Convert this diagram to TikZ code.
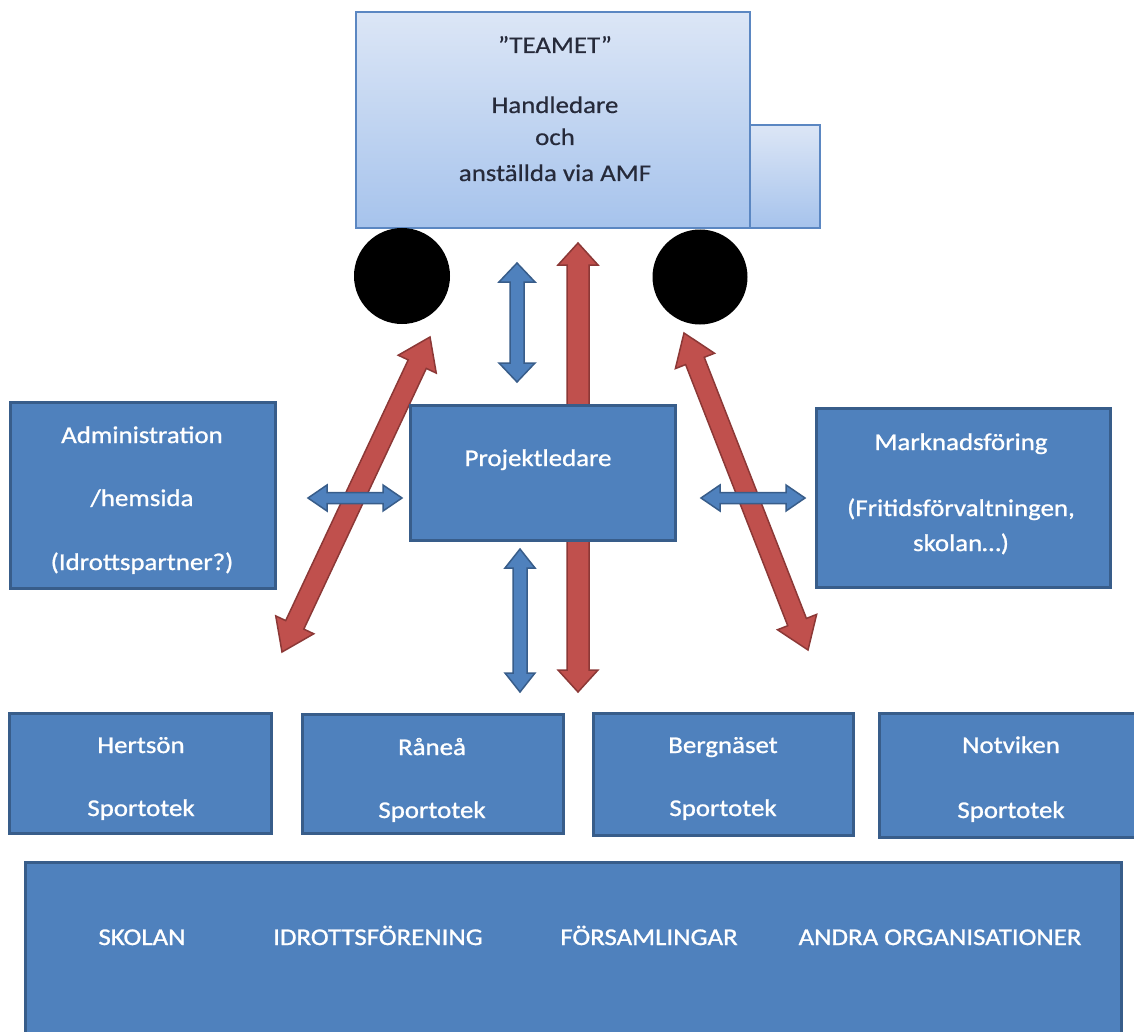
\documentclass[tikz,border=0pt]{standalone}
\usepackage{fontspec}
\setmainfont{Carlito}
\newfontfamily\boxfont[FakeStretch=1.12, FakeBold=1.0]{Carlito}
\newfontfamily\teamfont[FakeStretch=1.12, FakeBold=0.5]{Carlito}
\usetikzlibrary{calc}
\definecolor{bfill}{HTML}{4F81BD}
\definecolor{bdraw}{HTML}{385D8A}
\definecolor{rfill}{HTML}{C0504D}
\definecolor{rdraw}{HTML}{8C3836}
\definecolor{ltop}{HTML}{DCE6F6}
\definecolor{lbot}{HTML}{A6C3EC}
\definecolor{ledge}{HTML}{5B87C2}
\definecolor{tdark}{HTML}{262A3A}
% double-headed block arrow: style, tip A, tip B, shaft half width, head half width, head length
\newcommand\dblarrow[6]{%
  \coordinate (da1) at ($(#2)!#6!(#3)$);
  \coordinate (db1) at ($(#3)!#6!(#2)$);
  \draw[#1] (#2) -- ($(da1)!#5!90:(#3)$) -- ($(da1)!#4!90:(#3)$)
    -- ($(db1)!#4!-90:(#2)$) -- ($(db1)!#5!-90:(#2)$) -- (#3)
    -- ($(db1)!#5!90:(#2)$) -- ($(db1)!#4!90:(#2)$)
    -- ($(da1)!#4!-90:(#3)$) -- ($(da1)!#5!-90:(#3)$) -- cycle;}
\begin{document}
\begin{tikzpicture}[x=1pt,y=-1pt,
  bluebox/.style={draw=bdraw, line width=3pt, fill=bfill, inner sep=0pt},
  lightbox/.style={draw=ledge, line width=1.2pt, top color=ltop, bottom color=lbot, inner sep=0pt},
  dot/.style={circle, fill=black, inner sep=0pt},
  wlbl/.style={anchor=base, inner sep=0pt, text=white, font=\boxfont\fontsize{24}{28}\selectfont},
  dlbl/.style={anchor=base, inner sep=0pt, text=tdark, font=\teamfont\fontsize{24}{28}\selectfont},
  redarrow/.style={fill=rfill, draw=rdraw, line width=1.5pt, line join=miter},
  bluearrow/.style={fill=bfill, draw=bdraw, line width=1.5pt, line join=miter}]
\useasboundingbox (0,0) rectangle (1134,1032);
\fill[white] (0,0) rectangle (1134,1032);

% TEAMET box and its side box
\node[lightbox, minimum width=70pt, minimum height=103pt] (side) at (785,176.5) {};
\node[lightbox, minimum width=394pt, minimum height=216pt] (team) at (553,120) {};
\node[dlbl] (teamA) at (555,53) {”TEAMET”};
\node[dlbl] (teamB) at (555,113) {Handledare};
\node[dlbl] (teamC) at (555,145) {och};
\node[dlbl] (teamD) at (555,181) {anställda via AMF};

% black circles
\node[dot, minimum size=96pt] (cl) at (402,276) {};
\node[dot, minimum size=95pt] (cr) at (700,277) {};

% arrow end points
\coordinate (rvT) at (578,243);
\coordinate (rvB) at (578,692);
\coordinate (rlT) at (430,337);
\coordinate (rlB) at (282,652);
\coordinate (rrT) at (684,333);
\coordinate (rrB) at (808,650);
\coordinate (bvT1) at (517,263);
\coordinate (bvB1) at (517,382);
\coordinate (bvT2) at (520,549);
\coordinate (bvB2) at (520,692);
\coordinate (bhL1) at (308,498);
\coordinate (bhR1) at (402,498);
\coordinate (bhL2) at (701,498);
\coordinate (bhR2) at (805,498);

% red arrows (behind the boxes)
\dblarrow{redarrow}{rvT}{rvB}{11pt}{20pt}{22pt}
\dblarrow{redarrow}{rlT}{rlB}{10pt}{21pt}{30pt}
\dblarrow{redarrow}{rrT}{rrB}{10pt}{21pt}{30pt}

% middle row boxes
\node[bluebox, minimum width=265pt, minimum height=186pt] (adm) at (142.5,495) {};
\node[wlbl] (admA) at (142,443) {Administration};
\node[wlbl] (admB) at (142,506) {/hemsida};
\node[wlbl] (admC) at (142,570) {(Idrottspartner?)};

\node[bluebox, minimum width=265pt, minimum height=135pt] (proj) at (542.5,472.5) {};
\node[wlbl] (projA) at (538,466) {Projektledare};

\node[bluebox, minimum width=294pt, minimum height=179pt] (mark) at (963,497.5) {};
\node[wlbl] (markA) at (961,450) {Marknadsföring};
\node[wlbl] (markB) at (961,516) {(Fritidsförvaltningen,};
\node[wlbl] (markC) at (961,551) {skolan…)};

% blue arrows
\dblarrow{bluearrow}{bvT1}{bvB1}{7pt}{18pt}{19pt}
\dblarrow{bluearrow}{bvT2}{bvB2}{7pt}{15pt}{19pt}
\dblarrow{bluearrow}{bhL1}{bhR1}{5.5pt}{13pt}{19pt}
\dblarrow{bluearrow}{bhL2}{bhR2}{5.5pt}{13pt}{19pt}

% Sportotek row
\node[bluebox, minimum width=262pt, minimum height=120pt] (her) at (140,773) {};
\node[wlbl] (herA) at (141,753) {Hertsön};
\node[wlbl] (herB) at (141,816) {Sportotek};
\node[bluebox, minimum width=261pt, minimum height=119pt] (ran) at (432.5,773.5) {};
\node[wlbl] (ranA) at (432,755) {Råneå};
\node[wlbl] (ranB) at (432,818) {Sportotek};
\node[bluebox, minimum width=260pt, minimum height=122pt] (ber) at (723,774) {};
\node[wlbl] (berA) at (723,753) {Bergnäset};
\node[wlbl] (berB) at (723,816) {Sportotek};
\node[bluebox, minimum width=261pt, minimum height=124pt] (not) at (1009.5,775) {};
\node[wlbl] (notA) at (1011,753) {Notviken};
\node[wlbl] (notB) at (1011,818) {Sportotek};

% bottom box
\node[bluebox, minimum width=1096pt, minimum height=190pt] (base) at (573,957) {};
\node[wlbl] (baseA) at (142,945) {SKOLAN};
\node[wlbl] (baseB) at (378,945) {IDROTTSFÖRENING};
\node[wlbl] (baseC) at (649,945) {FÖRSAMLINGAR};
\node[wlbl] (baseD) at (940,945) {ANDRA ORGANISATIONER};
\end{tikzpicture}
\end{document}
